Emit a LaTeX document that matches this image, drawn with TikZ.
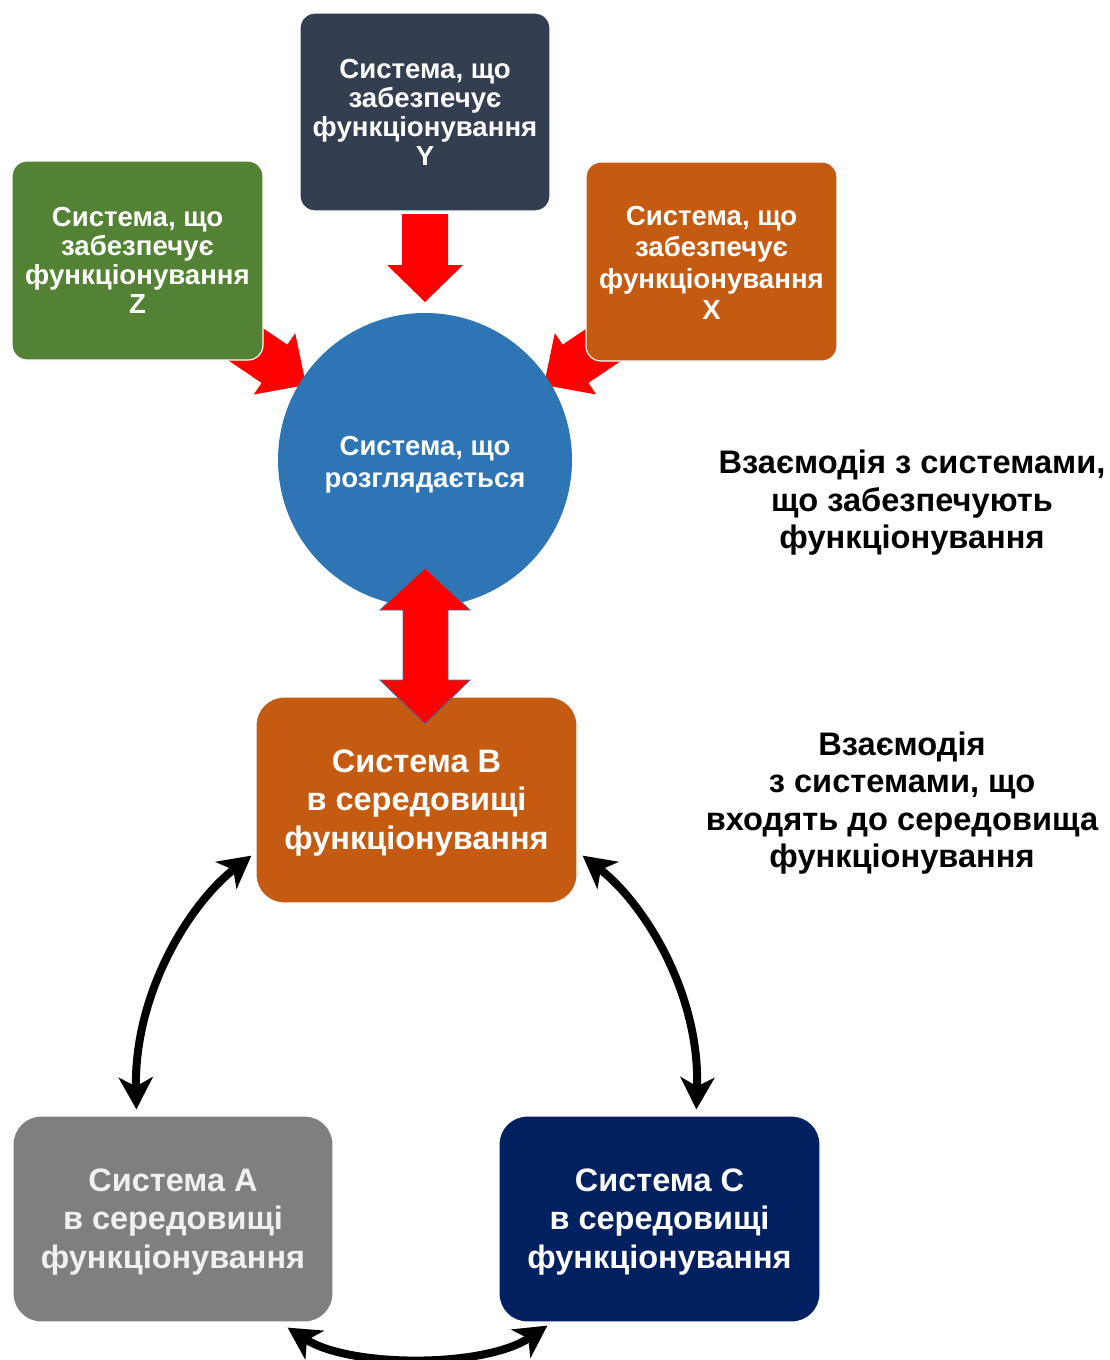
\documentclass[tikz,border=0pt]{standalone}
\usepackage{fontspec}
\setmainfont{Liberation Sans}
\usetikzlibrary{arrows.meta,calc}

\definecolor{cSlate}{HTML}{333F50}
\definecolor{cGreen}{HTML}{548235}
\definecolor{cOrange}{HTML}{C55A11}
\definecolor{cBlue}{HTML}{2E75B6}
\definecolor{cGray}{HTML}{7F7F7F}
\definecolor{cNavy}{HTML}{002060}
\definecolor{cRed}{HTML}{FF0000}
\definecolor{cEdge}{HTML}{41719C}

\tikzset{
  sysbox/.style={rounded corners=15pt, draw=white, line width=1.2pt,
    text=white, align=center, inner sep=0pt,
    font=\bfseries\fontsize{27.6}{29}\selectfont},
  envbox/.style={rounded corners=28pt, draw=white, line width=1.2pt,
    text=white, align=center, inner sep=0pt,
    minimum width=321pt, minimum height=206pt,
    font=\bfseries\fontsize{32.5}{38.5}\selectfont},
  blockarrow/.style={fill=cRed, draw=none},
  link/.style={line width=8pt, {Stealth[length=32pt,width=34pt,inset=9pt]}-{Stealth[length=32pt,width=34pt,inset=9pt]}},
  note/.style={align=center, text=black, font=\bfseries\fontsize{32.6}{37.5}\selectfont}
}

\begin{document}
\begin{tikzpicture}[x=1pt,y=-1pt]
\useasboundingbox (0,0) rectangle (1109,1360);

% red block arrows pointing into the circle (drawn first, boxes overlap their tails)
\fill[blockarrow] (402,214) -- (448,214) -- (448,265) -- (463,265) -- (425,302)
  -- (387,265) -- (402,265) -- cycle;
\fill[blockarrow] (224.3,357.7) -- (250.1,319.5) -- (287.4,344.7) -- (295.2,333.1)
  -- (306,385) -- (253.8,394.5) -- (261.6,382.9) -- cycle;
\fill[blockarrow] (625.7,357.7) -- (599.9,319.5) -- (562.6,344.7) -- (554.8,333.1)
  -- (544,385) -- (596.2,394.5) -- (588.4,382.9) -- cycle;

% supporting systems
\node[sysbox, fill=cSlate, minimum width=250pt, minimum height=198pt] (Y) at (425,112)
  {Система, що\\забезпечує\\функціонування\\Y};
\node[sysbox, fill=cGreen, minimum width=251pt, minimum height=199pt] (Z) at (137.5,260.5)
  {Система, що\\забезпечує\\функціонування\\Z};
\node[sysbox, fill=cOrange, minimum width=251pt, minimum height=199pt] (X) at (711.5,261.5) {};
\node[sysbox, draw=none, fill=none, font=\bfseries\fontsize{27.6}{31.5}\selectfont] (Xt)
  at (711.5,263) {Система, що\\забезпечує\\функціонування\\X};

% system under consideration
\node[circle, fill=cBlue, minimum size=294pt, inner sep=0pt] (S) at (425,460) {};
\node[text=white, align=center, font=\bfseries\fontsize{27.5}{32}\selectfont] (St)
  at (425,465) {Система, що\\розглядається};

% environment systems
\node[envbox, fill=cOrange] (B) at (416.5,800) {};
\node[envbox, fill=cGray, minimum width=320pt] (A) at (173,1219) {};
\node[envbox, fill=cNavy] (C) at (659.5,1219) {};
\node[envbox, draw=none, fill=none] (Bt) at (416.5,803) {Система В\\в середовищі\\функціонування};
\node[envbox, draw=none, fill=none, text=white!94!black] (At) at (173,1222) {Система А\\в середовищі\\функціонування};
\node[envbox, draw=none, fill=none] (Ct) at (659.5,1222) {Система С\\в середовищі\\функціонування};

% two-way block arrow between the circle and system B
\draw[fill=cRed, draw=cEdge, line width=0.8pt, line join=miter]
  (425,568) -- (470,610) -- (448,610) -- (448,680) -- (470,680) -- (425,724)
  -- (380,680) -- (403,680) -- (403,610) -- (380,610) -- cycle;

% curved links between environment systems
\coordinate (b1) at ($(B.south west)+(-4,-48)$);
\coordinate (a1) at ($(A.north west)+(124,-6)$);
\coordinate (b2) at ($(B.south east)+(5,-48)$);
\coordinate (c1) at ($(C.north west)+(198,-6)$);
\coordinate (a2) at ($(A.south east)+(-46,5)$);
\coordinate (c2) at ($(C.south west)+(49,3)$);
\draw[link] (b1) .. controls (188,905) and (134,995) .. (a1);
\draw[link] (b2) .. controls (646,905) and (700,995) .. (c1);
\draw[link] (a2) .. controls (350,1368) and (485,1368) .. (c2);

% explanatory labels
\node[note] (n1) at (912,503) {Взаємодія з системами,\\що забезпечують\\функціонування};
\node[note] (n2) at (902,803) {Взаємодія\\з системами, що\\входять до середовища\\функціонування};
\end{tikzpicture}
\end{document}
